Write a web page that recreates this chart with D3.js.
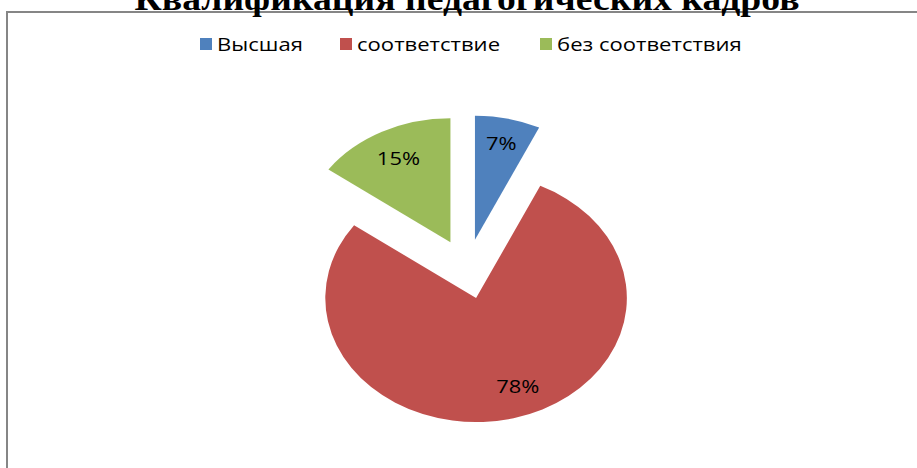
<!DOCTYPE html>
<html><head><meta charset="utf-8">
<script src="https://cdn.jsdelivr.net/npm/d3@7"></script>
<style>html,body{margin:0;padding:0;background:#fff;overflow:hidden}</style>
</head><body>
<svg id="c" width="917" height="468"></svg>
<script>
const title = "Квалификация педагогических кадров";
const categories = ["Высшая", "соответствие", "без соответствия"];
const values = [7, 78, 15];
const labels = ["7%", "78%", "15%"];
const colors = ["#4F81BD", "#C0504D", "#9BBB59"];

const svg = d3.select("#c");
const sx = 1.216;
const font = "Open Sans, Liberation Sans, sans-serif";

// frame
svg.append("rect").attr("x", 7).attr("y", 12).attr("width", 1000).attr("height", 1000)
  .attr("fill", "#fff").attr("stroke", "#868686").attr("stroke-width", 2);

// title (clipped at top, as in the reference)
svg.append("text").attr("x", 467).attr("y", 10).attr("text-anchor", "middle")
  .attr("font-family", "Liberation Serif, Times New Roman, serif").attr("font-weight", "bold")
  .attr("font-size", 34).attr("textLength", 665).attr("lengthAdjust", "spacingAndGlyphs")
  .attr("fill", "#000").text(title);

// legend
const legendX = [200, 340, 540];
const lg = svg.append("g");
categories.forEach((c, i) => {
  lg.append("rect").attr("x", legendX[i]).attr("y", 38).attr("width", 12).attr("height", 12).attr("fill", colors[i]);
  lg.append("text").attr("transform", `translate(${legendX[i] + 17},44) scale(${sx * 1.02},1)`)
    .attr("dominant-baseline", "central")
    .attr("font-family", font).attr("font-size", 17.8)
    .attr("fill", "#000").text(c);
});

// pie
const cx = 467, cy = 269, R = 124, explode = 30;
const labelFactor = [0.8, 0.76, 0.76];
const labelShift = [0, -7, 0]; // degrees
const pie = d3.pie().sort(null).value(d => d)(values);
const arc = d3.arc().innerRadius(0).outerRadius(R);
const g = svg.append("g").attr("transform", `translate(${cx},${cy}) scale(${sx},1)`);
pie.forEach((p, i) => {
  const mid = (p.startAngle + p.endAngle) / 2;
  const ox = Math.sin(mid) * explode, oy = -Math.cos(mid) * explode;
  g.append("path").attr("d", arc(p)).attr("transform", `translate(${ox},${oy})`).attr("fill", colors[i]);
  const la = mid + labelShift[i] * Math.PI / 180;
  const lr = labelFactor[i] * R;
  const lx = cx + (ox + Math.sin(la) * lr) * sx;
  const ly = cy + oy - Math.cos(la) * lr;
  svg.append("text").attr("transform", `translate(${lx},${ly}) scale(${sx},1)`)
    .attr("text-anchor", "middle").attr("dominant-baseline", "central")
    .attr("font-family", font).attr("font-size", 18)
    .attr("fill", "#000").text(labels[i]);
});
</script>
</body></html>
